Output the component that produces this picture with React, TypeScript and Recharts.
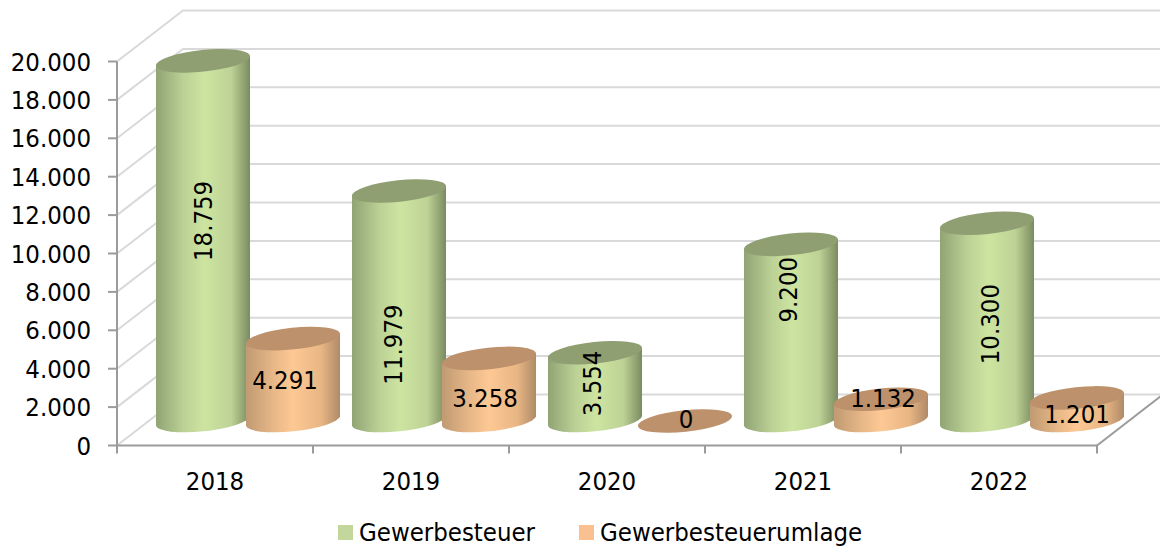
import { BarChart, Bar, XAxis, YAxis, CartesianGrid, Legend, LabelList } from 'recharts';

const years = ['2018', '2019', '2020', '2021', '2022'];
const gewerbesteuer = [18759, 11979, 3554, 9200, 10300];
const umlage = [4291, 3258, 0, 1132, 1201];
const yTicks = [0, 2000, 4000, 6000, 8000, 10000, 12000, 14000, 16000, 18000, 20000];

const chartData = years.map((year, i) => ({
  year,
  gewerbesteuer: gewerbesteuer[i],
  umlage: umlage[i],
}));

const FONT = '"DejaVu Sans Condensed", "DejaVu Sans", sans-serif';
const FONT_SIZE = 25.5;
const AXIS = '#9b9b9b';
const GRID = '#d9d9d9';
const W = 1160;
const H = 549;
const LEFT = 117;
const RIGHT = 63;

// fake 3d: walls sit back by this much, bars stand halfway in
const WALL_DX = 66;
const WALL_DY = -51;
const BAR_DX = 33;
const BAR_DY = -24.5;
const STEP = (W - LEFT - RIGHT) / years.length;

// the labels in the original were moved by hand
const greenNudge = [[0, -20], [-6, 38.5], [-3, -3.5], [-3, -43], [3, 2]];
const orangeNudge = [[-8, 0], [-4, 8], [1, -2], [2, -12], [0, 5]];

const fmt = (v: number) => String(v).replace(/\B(?=(\d{3})+$)/g, '.');

function Cylinder({ x, y, width, height, body, top }: any) {
  const cx = x + width / 2 + BAR_DX;
  const hw = width / 2;
  const rx = hw + 0.3;
  const ry = 10.8;
  const tilt = 4.8;
  const yTop = y + BAR_DY;
  const yBase = y + height + BAR_DY;
  const side = `M${cx - hw},${yTop + tilt} L${cx - hw},${yBase + tilt} A${rx},${ry} -6 0 0 ${cx + hw},${yBase - tilt} L${cx + hw},${yTop - tilt} Z`;
  return (
    <g>
      {height > 0.5 && <path d={side} fill={body} />}
      <ellipse cx={cx} cy={yTop} rx={rx} ry={ry} fill={top} transform={`rotate(-6 ${cx} ${yTop})`} />
    </g>
  );
}

function WallLine(props: any) {
  const { x1, x2, y1, index } = props;
  const isFloor = y1 > 440;
  return (
    <g key={`wall-${index}`}>
      <polyline
        points={`${x1},${y1} ${x1 + WALL_DX},${y1 + WALL_DY} ${W + 5},${y1 + WALL_DY}`}
        fill="none"
        stroke={GRID}
        strokeWidth={2}
      />
      {isFloor && (
        <line x1={x2} y1={y1} x2={x2 + WALL_DX} y2={y1 + WALL_DY} stroke={AXIS} strokeWidth={2} />
      )}
    </g>
  );
}

function YearTick({ x, y, payload, index }: any) {
  return (
    <g>
      <line x1={x - STEP / 2} y1={y} x2={x - STEP / 2} y2={y + 8} stroke={AXIS} strokeWidth={2} />
      {index === years.length - 1 && (
        <line x1={x + STEP / 2} y1={y} x2={x + STEP / 2} y2={y + 8} stroke={AXIS} strokeWidth={2} />
      )}
      <text x={x} y={y + 44} textAnchor="middle" fontFamily={FONT} fontSize={FONT_SIZE} fill="#000">
        {payload.value}
      </text>
    </g>
  );
}

function greenLabel({ x, y, width, height, value, index }: any) {
  const [nx, ny] = greenNudge[index];
  const cx = x + width / 2 + BAR_DX + nx;
  const cy = y + height / 2 + BAR_DY + ny;
  return (
    <text
      key={`g-${index}`}
      x={cx}
      y={cy}
      textAnchor="middle"
      dominantBaseline="central"
      transform={`rotate(-90 ${cx} ${cy})`}
      fontFamily={FONT}
      fontSize={FONT_SIZE}
      fill="#000"
    >
      {fmt(value)}
    </text>
  );
}

function orangeLabel({ x, y, width, height, value, index }: any) {
  const [nx, ny] = orangeNudge[index];
  return (
    <text
      key={`o-${index}`}
      x={x + width / 2 + BAR_DX + nx}
      y={y + height / 2 + BAR_DY + ny}
      textAnchor="middle"
      dominantBaseline="central"
      fontFamily={FONT}
      fontSize={FONT_SIZE}
      fill="#000"
    >
      {fmt(value)}
    </text>
  );
}

function LegendRow() {
  const item = (color: string, name: string, ml: number) => (
    <span style={{ display: 'flex', alignItems: 'center', marginLeft: ml }}>
      <span style={{ width: 15, height: 15, background: color, marginRight: 6 }} />
      {name}
    </span>
  );
  return (
    <div
      style={{
        display: 'flex',
        height: 40,
        alignItems: 'center',
        fontFamily: FONT,
        fontSize: FONT_SIZE,
        color: '#000',
        position: 'relative',
        top: 3,
      }}
    >
      {item('#c3d69b', 'Gewerbesteuer', 338)}
      {item('#fac090', 'Gewerbesteuerumlage', 44)}
    </div>
  );
}

export default function App() {
  return (
    <div style={{ position: 'absolute', left: 0, top: 0, width: W, height: H, background: '#fff' }}>
      <BarChart
        width={W}
        height={H}
        data={chartData}
        margin={{ top: 61.5, right: RIGHT, bottom: 0, left: 0 }}
        barSize={94}
        barGap={-4}
      >
        <defs>
          <linearGradient id="greenBody" x1="0" y1="0" x2="1" y2="0">
            <stop offset="0%" stopColor="#90a474" />
            <stop offset="30%" stopColor="#bcd296" />
            <stop offset="52%" stopColor="#cde4a1" />
            <stop offset="80%" stopColor="#bdd295" />
            <stop offset="100%" stopColor="#7b8b61" />
          </linearGradient>
          <linearGradient id="orangeBody" x1="0" y1="0" x2="1" y2="0">
            <stop offset="0%" stopColor="#c09a72" />
            <stop offset="30%" stopColor="#e8b888" />
            <stop offset="50%" stopColor="#fdc894" />
            <stop offset="80%" stopColor="#e8b684" />
            <stop offset="100%" stopColor="#b08a68" />
          </linearGradient>
        </defs>
        <CartesianGrid vertical={false} horizontal={WallLine} />
        <XAxis
          dataKey="year"
          height={63.5}
          interval={0}
          tickSize={0}
          tickMargin={0}
          tick={YearTick}
          tickLine={false}
          axisLine={{ stroke: AXIS, strokeWidth: 2 }}
        />
        <YAxis
          width={LEFT}
          domain={[0, 20000]}
          ticks={yTicks}
          interval={0}
          tickFormatter={fmt}
          tickSize={9}
          tickMargin={17}
          tick={{ fontFamily: FONT, fontSize: FONT_SIZE, fill: '#000' }}
          tickLine={{ stroke: AXIS, strokeWidth: 2 }}
          axisLine={{ stroke: AXIS, strokeWidth: 2 }}
        />
        <Legend verticalAlign="bottom" content={LegendRow} wrapperStyle={{ left: 0, width: W, margin: 0 }} />
        <Bar
          dataKey="gewerbesteuer"
          name="Gewerbesteuer"
          fill="#c3d69b"
          isAnimationActive={false}
          shape={(p: any) => <Cylinder {...p} body="url(#greenBody)" top="#8f9f72" />}
        >
          <LabelList dataKey="gewerbesteuer" content={greenLabel} />
        </Bar>
        <Bar
          dataKey="umlage"
          name="Gewerbesteuerumlage"
          fill="#fac090"
          isAnimationActive={false}
          shape={(p: any) => <Cylinder {...p} body="url(#orangeBody)" top="#bd916b" />}
        >
          <LabelList dataKey="umlage" content={orangeLabel} />
        </Bar>
      </BarChart>
    </div>
  );
}
